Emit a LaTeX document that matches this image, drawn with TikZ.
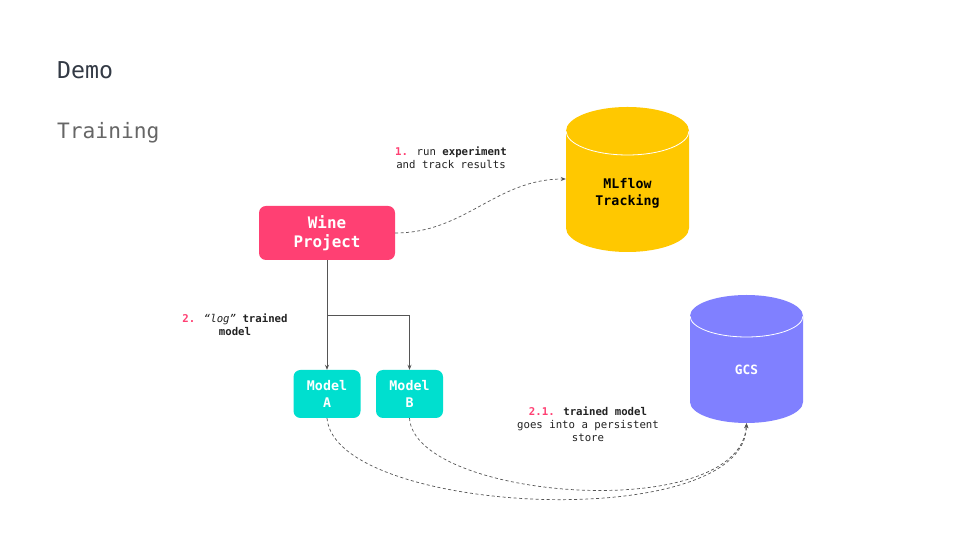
\documentclass[tikz,border=0pt]{standalone}
\usepackage{fontspec}
\setmainfont{DejaVu Sans Mono}
\usetikzlibrary{arrows.meta}
\definecolor{pinkc}{HTML}{FF4073}
\definecolor{tealc}{HTML}{00DFCF}
\definecolor{yelc}{HTML}{FFC800}
\definecolor{gcsc}{HTML}{8080FF}
\definecolor{linec}{HTML}{555555}
\definecolor{textc}{HTML}{222222}
\definecolor{democ}{HTML}{333A45}
\definecolor{trainc}{HTML}{666666}
\begin{document}
\begin{tikzpicture}[x=1pt,y=1pt,
  box/.style={rounded corners=7pt, text=white, align=center, inner sep=0pt},
  conn/.style={draw=linec, line width=0.7pt, -{Stealth[length=5pt,width=4pt]}},
  dconn/.style={conn, dash pattern=on 3pt off 2.5pt},
  lbl/.style={font=\fontsize{10.7}{13}\selectfont, align=center, text=textc, inner sep=0pt},
  cyltext/.style={font=\bfseries\fontsize{13.3}{17}\selectfont, align=center, inner sep=0pt}]
\useasboundingbox (0,0) rectangle (960,540);
\fill[white] (0,0) rectangle (960,540);

% titles
\node[anchor=west, inner sep=0pt, font=\fontsize{23.2}{27}\selectfont, text=democ] (demo) at (57,470) {Demo};
\node[anchor=west, inner sep=0pt, font=\fontsize{21.2}{25}\selectfont, text=trainc] (train) at (57,407) {Training};

% MLflow cylinder
\fill[yelc] (566,409) -- (566,312) arc[start angle=180,end angle=360,x radius=61.5,y radius=24]
  -- (689,409) arc[start angle=0,end angle=180,x radius=61.5,y radius=24] -- cycle;
\draw[white, line width=0.8pt] (566,409) arc[start angle=180,end angle=360,x radius=61.5,y radius=24];
\node[minimum width=123pt, minimum height=146pt, inner sep=0pt] (mlflow) at (627.5,361) {};
\node[cyltext, text=black] (mlflowtxt) at (627.5,347) {MLflow\\Tracking};

% GCS cylinder
\fill[gcsc] (690,224) -- (690,138) arc[start angle=180,end angle=360,x radius=56.5,y radius=21]
  -- (803,224) arc[start angle=0,end angle=180,x radius=56.5,y radius=21] -- cycle;
\draw[white, line width=0.8pt] (690,224) arc[start angle=180,end angle=360,x radius=56.5,y radius=21];
\node[minimum width=113pt, minimum height=128pt, inner sep=0pt] (gcs) at (746.5,181) {};
\node[cyltext, text=white, font=\bfseries\fontsize{12.8}{16}\selectfont] (gcstxt) at (746.5,170) {GCS};

% boxes
\node[box, fill=pinkc, minimum width=136pt, minimum height=54pt, font=\bfseries\fontsize{15.9}{19}\selectfont] (wine) at (327,307) {Wine\\Project};
\node[box, fill=tealc, minimum width=67pt, minimum height=48pt, font=\bfseries\fontsize{13.3}{17}\selectfont] (ma) at (327,146) {Model\\A};
\node[box, fill=tealc, minimum width=67pt, minimum height=48pt, font=\bfseries\fontsize{13.3}{17}\selectfont] (mb) at (409.5,146) {Model\\B};

% connectors
\coordinate (br) at (327,225);
\draw[conn] (wine.south) -- (ma.north);
\draw[conn] (br) -| (mb.north);
\draw[dconn] (wine.east) to[out=0,in=180] (mlflow.west);
\draw[dconn] (ma.south) .. controls (335,25) and (745,5) .. (gcs.south);
\draw[dconn] (mb.south) .. controls (415,40) and (740,15) .. (gcs.south);

% labels
\node[lbl] (l1) at (451,382.5) {\textcolor{pinkc}{\bfseries 1.} run \textbf{experiment}\\and track results};
\node[lbl] (l2) at (235,215) {\textcolor{pinkc}{\bfseries 2.} \textit{“log”} \textbf{trained}\\\textbf{model}};
\node[lbl] (l21) at (588,116) {\textcolor{pinkc}{\bfseries 2.1.} \textbf{trained model}\\goes into a persistent\\store};
\end{tikzpicture}
\end{document}
